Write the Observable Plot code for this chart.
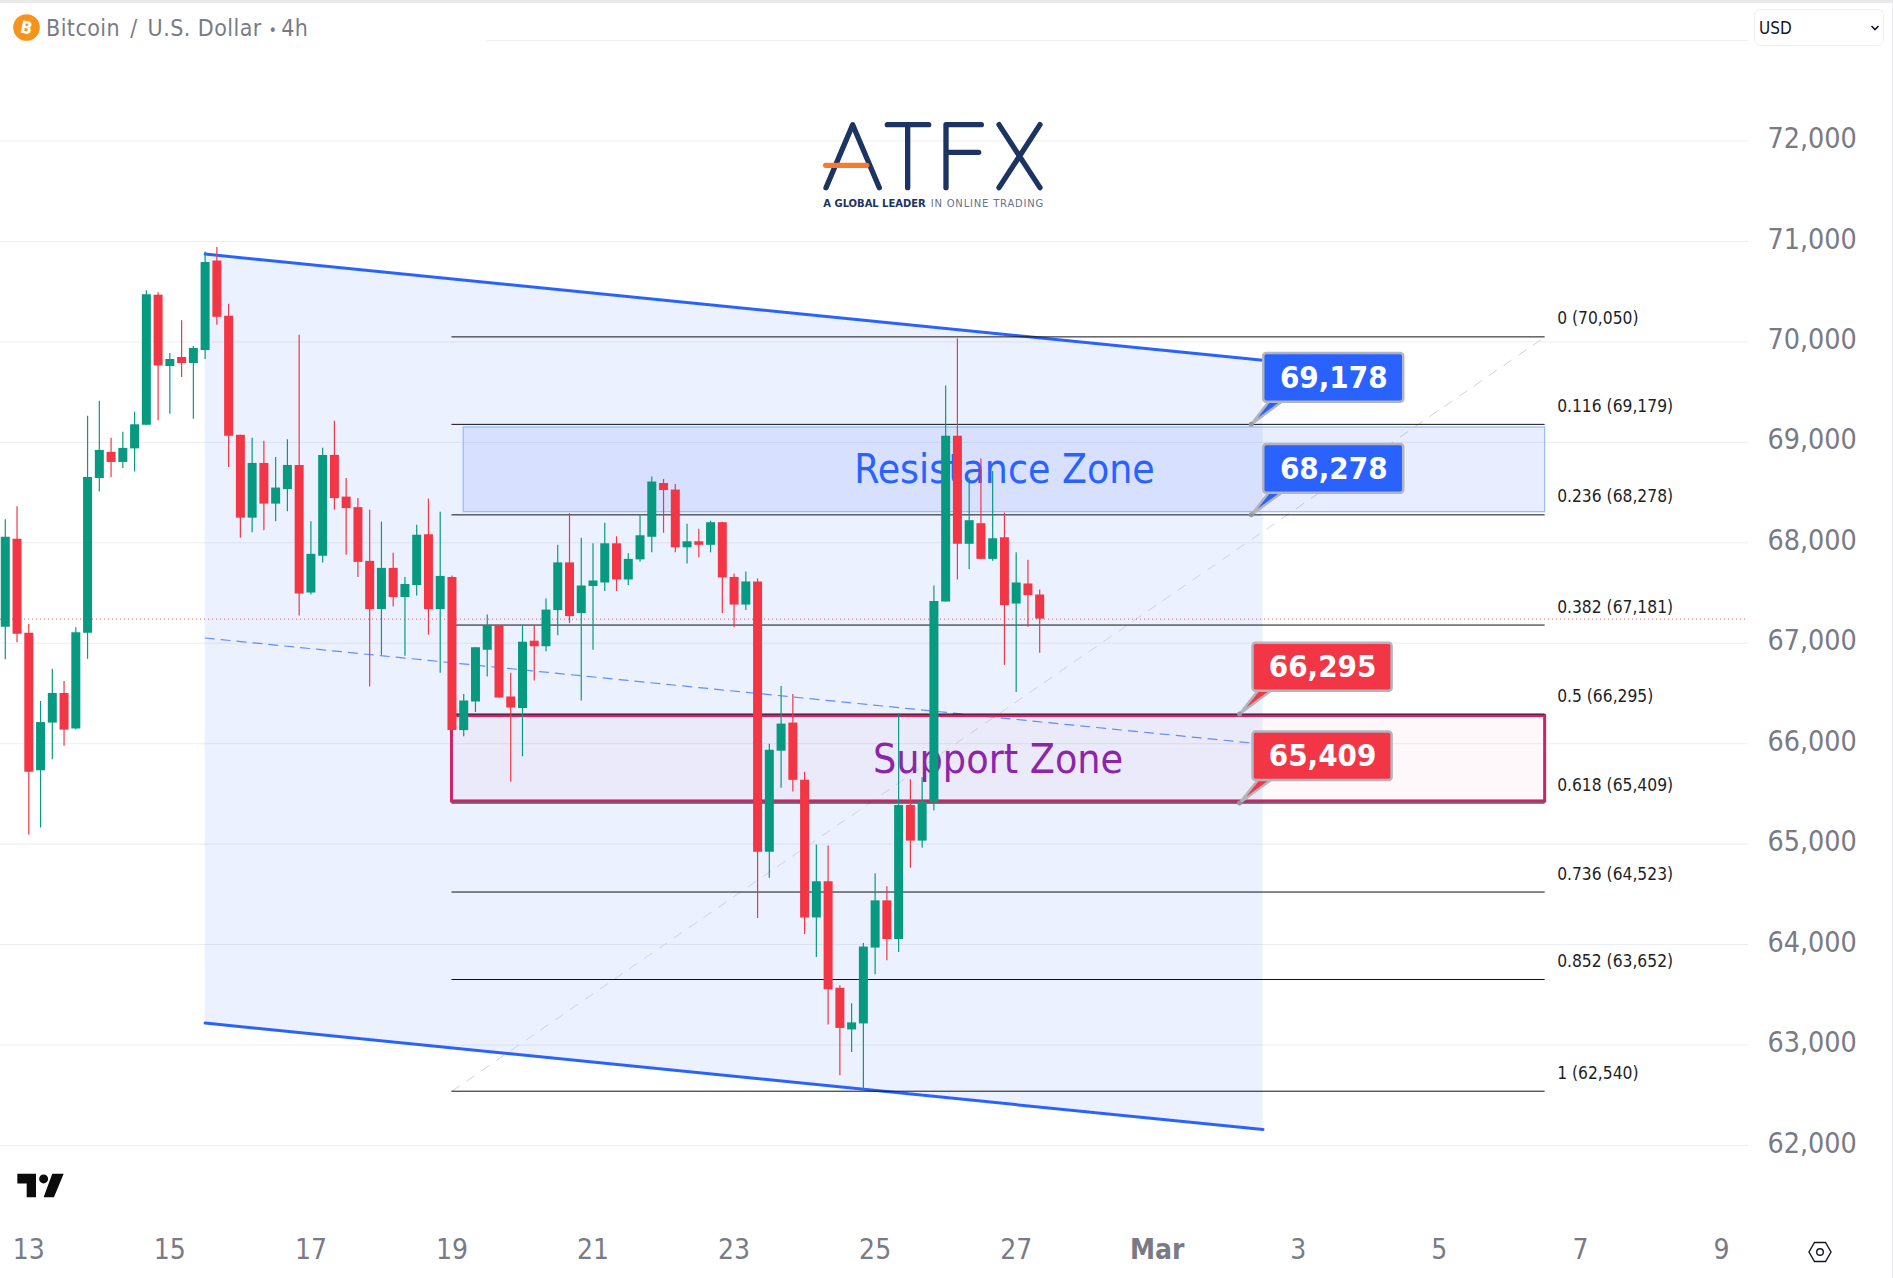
<!DOCTYPE html>
<html>
<head>
<meta charset="utf-8">
<title>Bitcoin / U.S. Dollar 4h</title>
<script src="https://cdn.jsdelivr.net/npm/d3@7"></script>
<script src="https://cdn.jsdelivr.net/npm/@observablehq/plot@0.6"></script>
<style>
html,body{margin:0;padding:0;background:#fff;overflow:hidden;width:1893px;height:1278px}
#root{position:relative;width:1893px;height:1278px;font-family:"DejaVu Sans Condensed","DejaVu Sans",sans-serif}
#root svg{display:block;position:absolute;left:0;top:0;max-width:none;background:transparent}
.ov{position:absolute}
</style>
</head>
<body>
<div id="root"></div>
<script>
// candle values, bar 0 = 12 Feb 16:00, one bar every 4 hours
const opens=[67160,68035,67100,65730,66205,66500,66145,67100,68640,68900,68800,68935,69170,70465,69755,69845,69785,69915,70805,70255,69070,68245,68790,68385,68530,68770,67500,67865,68870,68455,68350,67815,67335,67745,67455,67575,68080,67335,67655,66130,66415,66930,67175,66465,66350,67020,66965,67325,67800,67295,67565,67600,67990,67630,67830,68055,68590,68525,67950,68010,67975,68200,67655,67380,67610,64920,65925,66205,65635,64265,64625,63565,63150,63210,63965,64435,64050,65385,65030,65415,67410,69060,67985,68190,67835,68050,67390,67590,67480];
const highs=[68230,68360,67190,66420,66740,66620,67155,69260,69410,69040,69100,69300,70510,70490,69885,70210,69955,70895,70940,70375,69070,69040,69010,68850,69025,70065,68210,68940,69210,68640,68440,68325,68205,67895,67655,68175,68435,68305,67670,66490,66955,67280,67175,66700,67170,67175,67440,67975,68290,68045,67990,68195,68060,67890,68270,68655,68630,68580,68185,68135,68215,68205,67690,67710,67640,65995,66570,66490,65715,64990,64980,63590,63410,64010,64705,64575,66300,65640,65660,67570,69560,70030,68645,68835,68710,68295,67900,67825,67530];
const lows=[66835,67005,65090,65160,65840,65975,66135,66840,68505,68650,68740,68705,69170,69215,69280,69645,69230,69825,70165,68750,68045,68100,68120,68210,68310,67270,67480,67800,68325,67875,67655,66565,66880,67360,66870,67470,67080,66700,66130,66070,66310,66665,66455,65615,65870,66625,66915,67075,67195,66425,66930,67515,67515,67575,67805,67900,68095,67900,67790,67850,67900,67295,67155,67325,64260,64660,65555,65520,64100,63870,63200,62695,62925,62530,63700,63840,63920,64760,64960,65330,67410,67630,67735,67835,67815,66780,66510,67160,66900];
const closes=[68055,67090,65715,66210,66500,66135,67105,68650,68920,68800,68940,69175,70470,69760,69825,69785,69935,70790,70245,69060,68245,68790,68385,68545,68770,67490,67885,68870,68440,68340,67805,67335,67745,67455,67585,68075,67335,67665,66132,66425,66955,67175,66455,66355,67010,66965,67330,67800,67265,67570,67620,67990,67630,67835,68070,68605,68520,67950,68010,67975,68200,67650,67380,67610,64920,65935,66195,65635,64265,64625,63550,63165,63220,63975,64435,64050,65385,65030,65420,67415,69060,67985,68220,67835,68040,67375,67600,67475,67240];

// axis values
const priceTicks=[62000,63000,64000,65000,66000,67000,68000,69000,70000,71000,72000];
const dayLabels=["13","15","17","19","21","23","25","27","Mar","3","5","7","9"];
const dayBars=[2,14,26,38,50,62,74,86,98,110,122,134,146];

// channel (bar, upper, middle, lower)
const channelBars=[17,107];
const channelUpper=[70874,69817];
const channelMiddle=[67052,65995];
const channelLower=[63218,62159];

// fibonacci levels
const fibBars=[38,131];
const fibRatios=["0","0.116","0.236","0.382","0.5","0.618","0.736","0.852","1"];
const fibPrices=[70050,69179,68278,67181,66295,65409,64523,63652,62540];

// zones
const zoneBars=[39,131];
const resistanceRange=[68305,69148];
const supportBars=[38,131];
const supportRange=[65425,66275];

// callouts
const calloutText=["69,178","68,278","66,295","65,409"];
const calloutColor=["#2962ff","#2962ff","#f23645","#f23645"];
const calloutBars=[[107.06,118.97],[107.06,118.97],[106.15,117.98],[106.15,117.98]];
const calloutRange=[[69400,69885],[68494,68979],[66523,67000],[65634,66115]];
const calloutTipBar=[106,106,105,105];
const calloutTipPrice=[69179,68278,66295,65409];

const GREEN="#089981",RED="#f23645",BLUE="#2962ff";
const candles=opens.map((o,i)=>({i,o,h:highs[i],l:lows[i],c:closes[i],col:closes[i]>=o?GREEN:RED}));
const channel=channelBars.map((b,k)=>({b,u:channelUpper[k],m:channelMiddle[k],l:channelLower[k]}));
const fibs=fibPrices.map((p,k)=>({p,t:`${fibRatios[k]} (${d3.format(",")(p)})`}));
const callouts=calloutText.map((t,k)=>({t,col:calloutColor[k],x1:calloutBars[k][0],x2:calloutBars[k][1],y1:calloutRange[k][0],y2:calloutRange[k][1],id:k}));
const pointers=calloutText.flatMap((t,k)=>[
  {id:k,col:calloutColor[k],x:calloutBars[k][0]+1.6,y:calloutRange[k][0]+10},
  {id:k,col:calloutColor[k],x:calloutTipBar[k],y:calloutTipPrice[k]},
  {id:k,col:calloutColor[k],x:calloutBars[k][0]+0.45,y:calloutRange[k][0]+10}
]);
const tips=calloutTipBar.map((b,k)=>({b,p:calloutTipPrice[k]}));
const dayText=b=>dayLabels[dayBars.indexOf(b)];
const lastClose=closes[closes.length-1];
const FONT='"DejaVu Sans Condensed","DejaVu Sans",sans-serif';

const chart=Plot.plot({
  width:1893,height:1278,
  marginLeft:0,marginRight:145,marginTop:0,marginBottom:120,
  style:{fontFamily:FONT,background:"transparent"},
  x:{type:"linear",domain:[-0.407,148.3],label:null},
  y:{domain:[61870,73399],label:null},
  marks:[
    Plot.gridY(priceTicks,{stroke:"#eceef3",strokeOpacity:1}),
    Plot.ruleY([73000],{x1:41,x2:148.3,stroke:"#eceef3"}),
    Plot.axisY({anchor:"right",ticks:priceTicks,tickFormat:d3.format(","),tickSize:0,tickPadding:19,fontSize:28.4,dy:-2,color:"#787b86",label:null}),
    Plot.axisX({anchor:"bottom",ticks:dayBars.filter(b=>dayText(b)!=="Mar"),tickFormat:dayText,tickSize:0,tickPadding:81,fontSize:28,color:"#787b86",label:null}),
    Plot.axisX({anchor:"bottom",ticks:dayBars.filter(b=>dayText(b)==="Mar"),tickFormat:dayText,tickSize:0,tickPadding:81,fontSize:28,fontWeight:"bold",color:"#787b86",label:null}),
    // channel
    Plot.areaY(channel,{x:"b",y1:"l",y2:"u",fill:BLUE,fillOpacity:0.09}),
    Plot.lineY(channel,{x:"b",y:"u",stroke:BLUE,strokeWidth:3}),
    Plot.lineY(channel,{x:"b",y:"l",stroke:BLUE,strokeWidth:3}),
    Plot.lineY(channel,{x:"b",y:"m",stroke:BLUE,strokeOpacity:0.7,strokeWidth:1.2,strokeDasharray:"9 7"}),
    // fib diagonal
    Plot.line([[fibBars[0],fibPrices[8]],[fibBars[1],fibPrices[0]]],{stroke:"#d0d3dd",strokeWidth:1,strokeDasharray:"9 9"}),
    // zones
    Plot.rect([0],{x1:zoneBars[0],x2:zoneBars[1],y1:resistanceRange[0],y2:resistanceRange[1],fill:BLUE,fillOpacity:0.11,stroke:"#90bff9",strokeWidth:1.2}),
    Plot.rect([0],{x1:supportBars[0],x2:supportBars[1],y1:supportRange[0],y2:supportRange[1],fill:"#e91e63",fillOpacity:0.03,stroke:"#cc2469",strokeWidth:3}),
    // fib lines + labels
    Plot.ruleY(fibs,{y:"p",x1:fibBars[0],x2:fibBars[1],stroke:"#111",strokeWidth:1}),
    Plot.text(fibs,{y:"p",x:()=>fibBars[1],text:"t",dx:12,dy:-18,textAnchor:"start",fontSize:17.3,fill:"#1c1f26"}),
    // zone text
    Plot.text(["Resistance Zone"],{x:()=>85,y:()=>68721,text:d=>d,fontSize:40.5,fill:BLUE}),
    Plot.text(["Support Zone"],{x:()=>84.46,y:()=>65836,text:d=>d,fontSize:40.8,fill:"#8e24aa"}),
    // last price
    Plot.ruleY([lastClose],{stroke:RED,strokeOpacity:0.85,strokeWidth:1,strokeDasharray:"1 3"}),
    // candles
    Plot.ruleX(candles,{x:"i",y1:"l",y2:"h",stroke:"col",strokeWidth:1.2}),
    Plot.ruleX(candles,{x:"i",y1:"o",y2:"c",stroke:"col",strokeWidth:9}),
    // callouts
    Plot.line(pointers,{x:"x",y:"y",z:"id",fill:"col",stroke:"#b2b5be",strokeWidth:2.5,curve:"linear-closed"}),
    Plot.dot(tips,{x:"b",y:"p",r:2.5,fill:"#9598a1"}),
    Plot.rect(callouts,{x1:"x1",x2:"x2",y1:"y1",y2:"y2",fill:"col",stroke:"#b2b5be",strokeWidth:2.5,rx:3}),
    Plot.text(callouts,{x:d=>(d.x1+d.x2)/2,y:d=>(d.y1+d.y2)/2,text:"t",fill:"#fff",fontSize:31,fontWeight:"bold"})
  ]
});
const root=document.getElementById("root");
root.appendChild(chart);

// header, logo and furniture drawn over the chart
const ov=document.createElement("div");
ov.innerHTML=`
<div class="ov" style="left:0;top:0;width:1893px;height:3px;background:#e9e9ea"></div>
<div class="ov" style="right:0;top:0;width:1px;height:1278px;background:#ececee"></div>
<svg class="ov" style="left:13px;top:14px" width="27" height="27" viewBox="0 0 27 27">
  <circle cx="13.5" cy="13.5" r="13.3" fill="#f7931a"/>
  <text x="13.5" y="19.5" text-anchor="middle" font-size="17" font-weight="bold" fill="#fff" transform="rotate(12 13.5 13.5)">B</text>
</svg>
<div class="ov" style="left:46px;top:14px;font-size:23px;line-height:28px;color:#787b86;letter-spacing:.45px;white-space:nowrap;">Bitcoin <span style="margin:0 3px">/</span> U.S. Dollar <span style="font-size:15px">•</span><span style="margin-left:4px">4h</span></div>
<div class="ov" style="left:1754px;top:9px;width:130px;height:37px;border:1px solid #eeeff2;border-radius:6px;box-sizing:border-box;background:#fff"></div>
<div class="ov" style="left:1759px;top:17px;font-size:17px;line-height:22px;color:#131722">USD</div>
<svg class="ov" style="left:1870px;top:24px" width="10" height="8"><path d="M1.5 2 L5 5.5 L8.5 2" fill="none" stroke="#131722" stroke-width="1.6"/></svg>
<svg class="ov" style="left:780px;top:90px" width="300" height="150" viewBox="0 0 900 450">
  <g fill="none" stroke="#1c3461" stroke-width="16" stroke-linecap="round" stroke-linejoin="round">
    <path d="M138 293 L218 104 L298 293"/>
    <path d="M322 104 L446 104 M383 104 L383 293"/>
    <path d="M498 293 L498 104 L604 104 M498 187 L596 187"/>
    <path d="M657 104 L780 293 M780 104 L657 293"/>
  </g>
  <path d="M137 226 L260 226" stroke="#f47b30" stroke-width="16" stroke-linecap="round"/>
  <text x="130" y="350" font-size="30" font-weight="bold" font-family="DejaVu Sans" fill="#1c3461" textLength="307" lengthAdjust="spacing">A GLOBAL LEADER</text>
  <text x="452" y="350" font-size="30" font-family="DejaVu Sans" fill="#68708a" textLength="338" lengthAdjust="spacing">IN ONLINE TRADING</text>
</svg>
<svg class="ov" style="left:17px;top:1173px" width="47" height="25" viewBox="53 130 136 72">
  <path d="M54 132 H108 V200 H81 V160 H54 Z M155 132 H188 L160 200 H130 Z" fill="#0b0b0b"/>
  <circle cx="130" cy="147" r="13" fill="#0b0b0b"/>
</svg>
<svg class="ov" style="left:1806px;top:1240px" width="28" height="24" viewBox="0 0 28 24">
  <path d="M8.5 2.5 H19.5 L25 12 L19.5 21.5 H8.5 L3 12 Z" fill="none" stroke="#131722" stroke-width="1.4"/>
  <circle cx="14" cy="12" r="3.3" fill="none" stroke="#131722" stroke-width="1.4"/>
</svg>`;
root.appendChild(ov);
</script>
</body>
</html>
